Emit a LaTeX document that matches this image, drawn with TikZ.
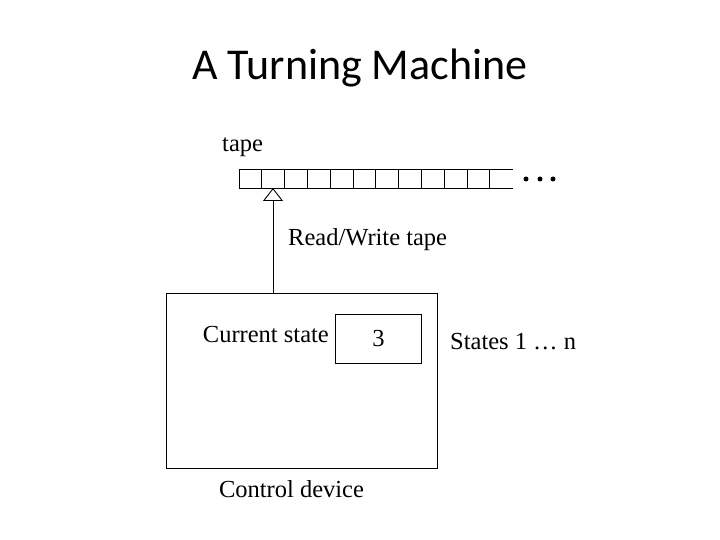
\documentclass[tikz,border=0pt]{standalone}
\usepackage{fontspec}
\setmainfont{Liberation Serif}
\newfontfamily\titlefont{Carlito}
\usetikzlibrary{arrows.meta}
\begin{document}
\begin{tikzpicture}[x=1pt,y=-1pt,
  lbl/.style={inner sep=0pt,font=\fontsize{24.5}{28}\selectfont},
  ln/.style={line width=0.9pt},
  dot/.style={circle,fill,inner sep=0pt,minimum size=5pt}]
\useasboundingbox (0,0) rectangle (720,540);
\node[font=\titlefont\fontsize{44}{50}\selectfont] (title) at (360,68) {A Turning Machine};
\node[lbl,anchor=west] (tapelbl) at (222,147) {tape};
% tape
\coordinate (tl) at (239,169);
\coordinate (tr) at (513,169);
\coordinate (bl) at (239,188);
\coordinate (br) at (513,188);
\draw[ln] (tl) -- (tr);
\draw[ln] (bl) -- (br);
\foreach \i in {0,...,11} {
  \draw[ln] ({239+22.8*\i},169) -- ({239+22.8*\i},188);
}
\node[dot] (d1) at (526,179) {};
\node[dot] (d2) at (540,179) {};
\node[dot] (d3) at (553,179) {};
% control
\node[draw,ln,minimum width=271pt,minimum height=175pt,inner sep=0pt,anchor=north west] (ctrl) at (166,293) {};
\node[draw,ln,minimum width=86pt,minimum height=49pt,inner sep=0pt,anchor=north west,font=\fontsize{24.5}{28}\selectfont] (cur) at (335,314) {3};
\node[lbl,anchor=east] (curlbl) at (329,335) {Current state};
\node[lbl,anchor=west] (states) at (450,342) {States 1 \dots{} n};
\node[lbl] (ctrllbl) at (291.5,489) {Control device};
\coordinate (headbase) at (273,293);
\coordinate (headtip) at (273,188);
\draw[ln,-{Triangle[open,width=20pt,length=13pt]}] (headbase) -- (headtip);
\node[lbl,anchor=west] (rw) at (288,240) {Read/Write tape};
\end{tikzpicture}
\end{document}
